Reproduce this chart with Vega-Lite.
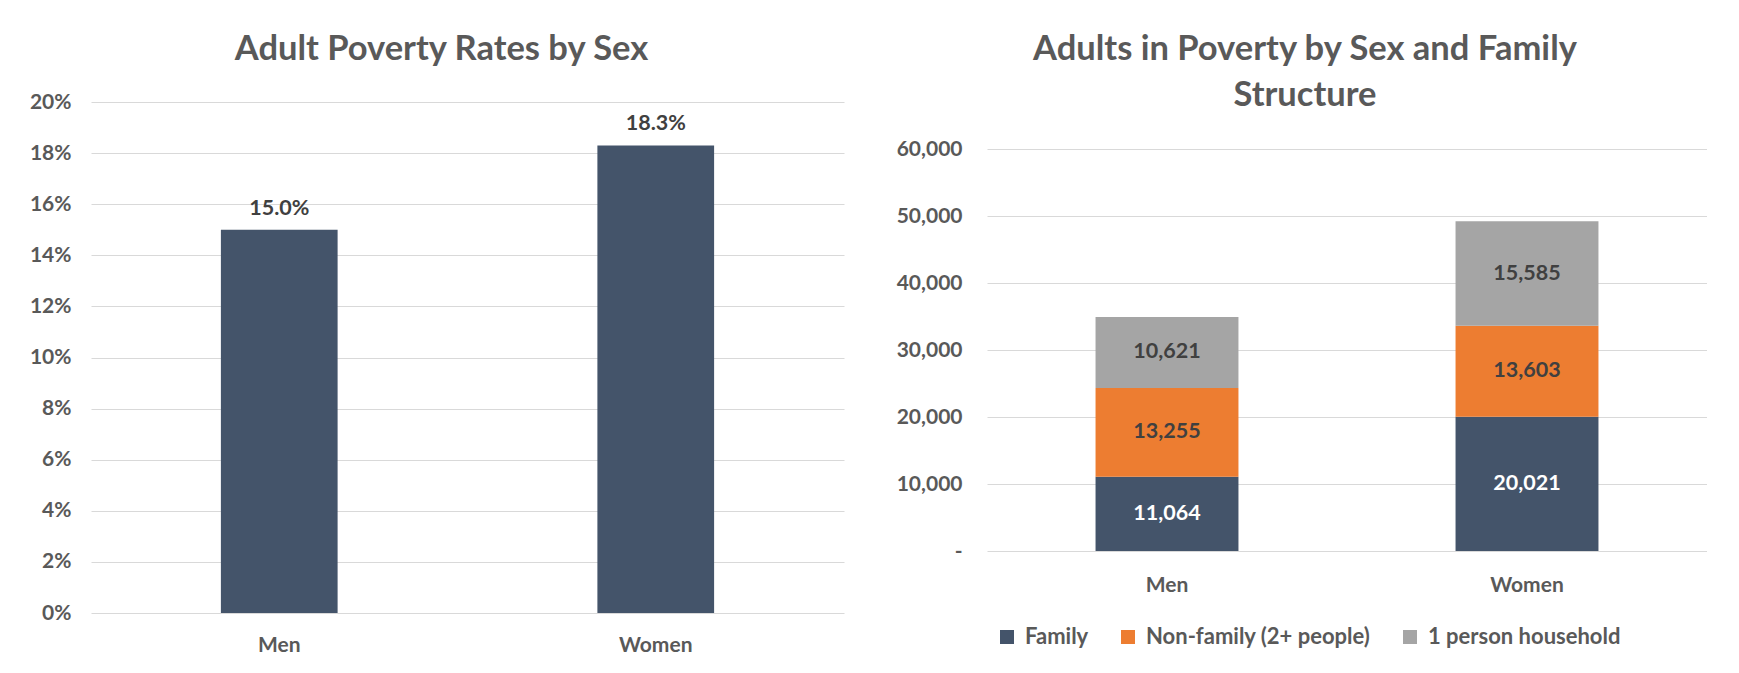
{
  "$schema": "https://vega.github.io/schema/vega-lite/v6.json",
  "background": "white",
  "padding": {"left": 20, "top": 31, "right": 0, "bottom": 0},
  "spacing": 43,
  "resolve": {"legend": {"color": "independent"}},
  "config": {
    "view": {"stroke": null},
    "font": "Lato",
    "axis": {"labelFont": "Lato", "labelColor": "#595959", "labelFontWeight": "bold", "labelFontSize": 21, "domain": false, "ticks": false, "title": null, "gridColor": "#D9D9D9", "gridWidth": 1},
    "title": {"font": "Lato", "fontSize": 34.5, "fontWeight": "bold", "color": "#595959", "anchor": "middle", "frame": "group", "baseline": "alphabetic"}
  },
  "datasets": {
    "rates": [
      {"sex": "Men", "rate": 0.150},
      {"sex": "Women", "rate": 0.183}
    ],
    "counts": [
      {"sex": "Men", "structure": "Family", "seq": 1, "count": 11064},
      {"sex": "Men", "structure": "Non-family (2+ people)", "seq": 2, "count": 13255},
      {"sex": "Men", "structure": "1 person household", "seq": 3, "count": 10621},
      {"sex": "Women", "structure": "Family", "seq": 1, "count": 20021},
      {"sex": "Women", "structure": "Non-family (2+ people)", "seq": 2, "count": 13603},
      {"sex": "Women", "structure": "1 person household", "seq": 3, "count": 15585}
    ]
  },
  "hconcat": [
    {
      "width": 753,
      "height": 511,
      "title": {"text": "Adult Poverty Rates by Sex", "offset": 24, "dx": -26},
      "data": {"name": "rates"},
      "encoding": {
        "x": {"field": "sex", "type": "nominal", "scale": {"paddingInner": 0.69, "paddingOuter": 0.345}, "axis": {"labelAngle": 0, "labelPadding": 21, "grid": false}},
        "y": {"field": "rate", "type": "quantitative", "scale": {"domain": [0, 0.2], "nice": false}, "axis": {"format": ".0%", "values": [0, 0.02, 0.04, 0.06, 0.08, 0.1, 0.12, 0.14, 0.16, 0.18, 0.2], "labelPadding": 20, "minExtent": 71, "maxExtent": 71}}
      },
      "layer": [
        {"mark": {"type": "bar", "color": "#44546A"}},
        {"mark": {"type": "text", "baseline": "alphabetic", "dy": -15, "fontSize": 21.5, "fontWeight": "bold", "color": "#404040"}, "encoding": {"text": {"field": "rate", "format": ".1%"}}}
      ]
    },
    {
      "width": 720,
      "height": 449,
      "title": {"text": ["Adults in Poverty by Sex and Family", "Structure"], "lineHeight": 46.5, "offset": -11.5, "dx": -42},
      "data": {"name": "counts"},
      "transform": [
        {"stack": "count", "groupby": ["sex"], "sort": [{"field": "seq", "order": "ascending"}], "as": ["c0", "c1"]},
        {"calculate": "(datum.c0 + datum.c1) / 2", "as": "cmid"}
      ],
      "encoding": {
        "x": {"field": "sex", "type": "nominal", "scale": {"paddingInner": 0.603, "paddingOuter": 0.3015}, "axis": {"labelAngle": 0, "labelPadding": 23, "grid": false}}
      },
      "layer": [
        {
          "mark": {"type": "bar"},
          "encoding": {
            "y": {"field": "c0", "type": "quantitative", "scale": {"domain": [0, 67015], "nice": false}, "axis": {"values": [0, 10000, 20000, 30000, 40000, 50000, 60000], "labelExpr": "datum.value === 0 ? '-' : format(datum.value, ',')", "labelPadding": 25, "minExtent": 100, "maxExtent": 100}},
            "y2": {"field": "c1"},
            "color": {
              "field": "structure", "type": "nominal",
              "scale": {"domain": ["Family", "Non-family (2+ people)", "1 person household"], "range": ["#44546A", "#ED7D31", "#A5A5A5"]},
              "legend": {"title": null, "orient": "none", "direction": "horizontal", "legendX": 9, "legendY": 524, "labelFont": "Lato", "labelFontSize": 22, "labelFontWeight": "bold", "labelColor": "#595959", "labelLimit": 400, "symbolType": "square", "symbolSize": 196, "symbolStrokeWidth": 0, "labelOffset": 7, "columnPadding": 28}
            }
          }
        },
        {
          "mark": {"type": "text", "fontSize": 21.5, "fontWeight": "bold", "baseline": "middle"},
          "encoding": {
            "y": {"field": "cmid", "type": "quantitative"},
            "text": {"field": "count", "format": ","},
            "color": {"condition": {"test": "datum.structure === 'Family'", "value": "white"}, "value": "#404040"}
          }
        }
      ]
    }
  ]
}
